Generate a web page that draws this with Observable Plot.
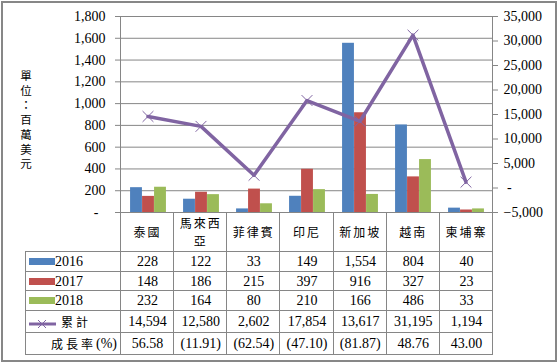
<!DOCTYPE html>
<html>
<head>
<meta charset="utf-8">
<script src="https://cdn.jsdelivr.net/npm/d3@7"></script>
<script src="https://cdn.jsdelivr.net/npm/@observablehq/plot@0.6"></script>
<style>
  body { margin: 0; background: #fff; }
  #wrap { position: relative; width: 559px; height: 364px; overflow: hidden; background: #fff; }
  #chart { position: absolute; left: 0; top: 0; }
  #frame { position: absolute; left: 1px; top: 1px; width: 556px; height: 361px; box-sizing: border-box; border: 2px solid #878787; pointer-events: none; }
  #ylabel { position: absolute; left: 19px; top: 68px; width: 14px; font: 11.5px "Noto Sans CJK TC", sans-serif; line-height: 14.7px; text-align: center; white-space: pre; color: #000; }
  .ln { position: absolute; background: #868686; }
  .cell { position: absolute; display: flex; align-items: center; justify-content: center; color: #000; box-sizing: border-box; }
  .num { font: 14px "Liberation Serif", serif; }
  .cjk { font: 12px "Noto Sans CJK TC", sans-serif; letter-spacing: 2px; padding-left: 2px; text-align: center; white-space: pre; line-height: 18px; }
  .key { position: absolute; }
</style>
</head>
<body>
<div id="wrap">
  <div id="chart"></div>
  <div id="ylabel"></div>
  <div id="tbl"></div>
  <div id="frame"></div>
</div>
<script>
// ---------- data ----------
const categories = ["泰國", "馬來西亞", "菲律賓", "印尼", "新加坡", "越南", "柬埔寨"];
const categoryLabels = ["泰國", "馬來西\n亞", "菲律賓", "印尼", "新加坡", "越南", "柬埔寨"];
const seriesNames = ["2016", "2017", "2018"];
const values2016 = [228, 122, 33, 149, 1554, 804, 40];
const values2017 = [148, 186, 215, 397, 916, 327, 23];
const values2018 = [232, 164, 80, 210, 166, 486, 33];
const cumulativeName = "累計";
const cumulative = [14594, 12580, 2602, 17854, 13617, 31195, 1194];
const growthName = "成長率(%)";
const growth = [56.58, -11.91, -62.54, -47.10, -81.87, 48.76, 43.00];
const leftTicks = [0, 200, 400, 600, 800, 1000, 1200, 1400, 1600, 1800];
const rightTicks = [-5000, 0, 5000, 10000, 15000, 20000, 25000, 30000, 35000];
const yLabel = "單位：百萬美元";
const seriesColors = ["#4F81BD", "#C0504D", "#9BBB59"];
const lineColor = "#8064A2";

// ---------- chart ----------
const W = 559, H = 230;
const mL = 120, mR = 67, mT = 16, mB = 18;
const lMax = leftTicks[leftTicks.length - 1];
const rMin = rightTicks[0], rMax = rightTicks[rightTicks.length - 1];
const toLeft = v => (v - rMin) * lMax / (rMax - rMin);
const fromLeft = d => Math.round(d * (rMax - rMin) / lMax + rMin);
const fmt = d3.format(",");
const seriesValues = [values2016, values2017, values2018];

const bandW = (W - mL - mR) / categories.length;
const barW = 12;
const inset = (bandW - barW) / 2;

const barMarks = seriesNames.map((s, i) =>
  Plot.barY(
    categories.map((c, j) => ({ cat: c, value: seriesValues[i][j], series: s })),
    { x: "cat", y: "value", fill: seriesColors[i], dx: (i - 1) * barW + 0.5, insetLeft: inset, insetRight: inset }
  )
);
const lineData = categories.map((c, j) => ({ cat: c, v: toLeft(cumulative[j]) }));

const chart = Plot.plot({
  width: W, height: H,
  marginLeft: mL, marginRight: mR, marginTop: mT, marginBottom: mB,
  style: { fontFamily: "'Liberation Serif', serif", fontSize: "14px", color: "#000", background: "transparent", overflow: "visible" },
  x: { domain: categories, padding: 0, axis: null },
  y: { domain: [0, lMax] },
  marks: [
    Plot.gridY(leftTicks.filter(d => d > 0), { stroke: "#868686", strokeOpacity: 1 }),
    ...barMarks,
    Plot.frame({ stroke: "#868686" }),
    Plot.axisY({ ticks: leftTicks, tickFormat: d => d === 0 ? "-\u2002" : fmt(d), tickSize: 5, tickPadding: 10, stroke: "#868686", label: null }),
    Plot.axisY({ anchor: "right", ticks: rightTicks.map(toLeft), tickFormat: d => { const v = fromLeft(d); return v === 0 ? "\u00a0-" : fmt(v); }, tickSize: 5, tickPadding: 6, stroke: "#868686", label: null }),
    Plot.line(lineData, { x: "cat", y: "v", stroke: lineColor, strokeWidth: 3.5 }),
    Plot.dot(lineData, { x: "cat", y: "v", symbol: "times", r: 5, stroke: lineColor, strokeWidth: 1 })
  ]
});
document.getElementById("chart").appendChild(chart);

// ---------- y label ----------
document.getElementById("ylabel").textContent = Array.from(yLabel).join("\n");

// ---------- data table ----------
const tbl = document.getElementById("tbl");
const x0 = mL, x1 = W - mR;
const colX = [24.7, ...d3.range(categories.length + 1).map(k => x0 + k * bandW)];
const rowY = [H - mB, 251, 271, 290, 310, 332, 354];
function add(cls, x, y, w, h, text) {
  const d = document.createElement("div");
  d.className = cls;
  Object.assign(d.style, { left: x + "px", top: y + "px", width: w + "px", height: h + "px" });
  if (text != null) d.textContent = text;
  tbl.appendChild(d);
  return d;
}
// vertical lines
colX.forEach((x, k) => {
  const top = k === 0 ? rowY[1] : rowY[0];
  add("ln", Math.round(x), top, 1, rowY[6] - top + 1);
});
// horizontal lines
for (let r = 1; r < rowY.length; r++) add("ln", Math.round(colX[0]), rowY[r], Math.round(x1) - Math.round(colX[0]) + 1, 1);

// header
categoryLabels.forEach((c, j) => {
  const d = add("cell", colX[j + 1], rowY[0], bandW, rowY[1] - rowY[0]);
  const s = document.createElement("span"); s.className = "cjk"; s.textContent = c; d.appendChild(s);
});
// series rows
const fmtGrowth = g => g < 0 ? "(" + d3.format(".2f")(-g) + ")" : d3.format(".2f")(g);
const rows = [
  ...seriesValues.map(vals => vals.map(fmt)),
  cumulative.map(fmt),
  growth.map(fmtGrowth)
];
rows.forEach((vals, r) => {
  vals.forEach((v, j) => {
    add("cell num", colX[j + 1] + 1, rowY[r + 1] + 1, bandW, rowY[r + 2] - rowY[r + 1], v);
  });
});
// legend column
seriesNames.forEach((s, i) => {
  const yc = (rowY[i + 1] + rowY[i + 2]) / 2 + 0.5;
  const k = add("key", 29, Math.round(yc - 3.5), 26, 7);
  k.style.background = seriesColors[i];
  const t = add("cell num", 55, rowY[i + 1] + 1, 40, rowY[i + 2] - rowY[i + 1], s);
  t.style.justifyContent = "flex-start";
});
{
  const yc = (rowY[4] + rowY[5]) / 2 + 0.5;
  const k = add("key", 29, Math.round(yc - 6), 27, 12);
  const ns = "http://www.w3.org/2000/svg";
  const svg = document.createElementNS(ns, "svg");
  svg.setAttribute("width", 27); svg.setAttribute("height", 12);
  svg.innerHTML = `<line x1="0" y1="6" x2="27" y2="6" stroke="${lineColor}" stroke-width="3"/>` +
    `<path d="M9,2L17,10M17,2L9,10" stroke="${lineColor}" stroke-width="1" fill="none"/>`;
  k.appendChild(svg);
  const t = add("cell", 59, rowY[4] + 1, 40, rowY[5] - rowY[4]);
  t.style.justifyContent = "flex-start";
  const s = document.createElement("span"); s.className = "cjk"; s.style.letterSpacing = "3px"; s.textContent = cumulativeName; t.appendChild(s);
}
{
  const t = add("cell", colX[0], rowY[5] + 1, colX[1] - colX[0] - 3, rowY[6] - rowY[5]);
  t.style.justifyContent = "flex-end";
  const s1 = document.createElement("span"); s1.className = "cjk"; s1.style.letterSpacing = "3px"; s1.textContent = growthName.slice(0, 3);
  const s2 = document.createElement("span"); s2.className = "num"; s2.textContent = growthName.slice(3);
  t.appendChild(s1); t.appendChild(s2);
}
</script>
</body>
</html>
